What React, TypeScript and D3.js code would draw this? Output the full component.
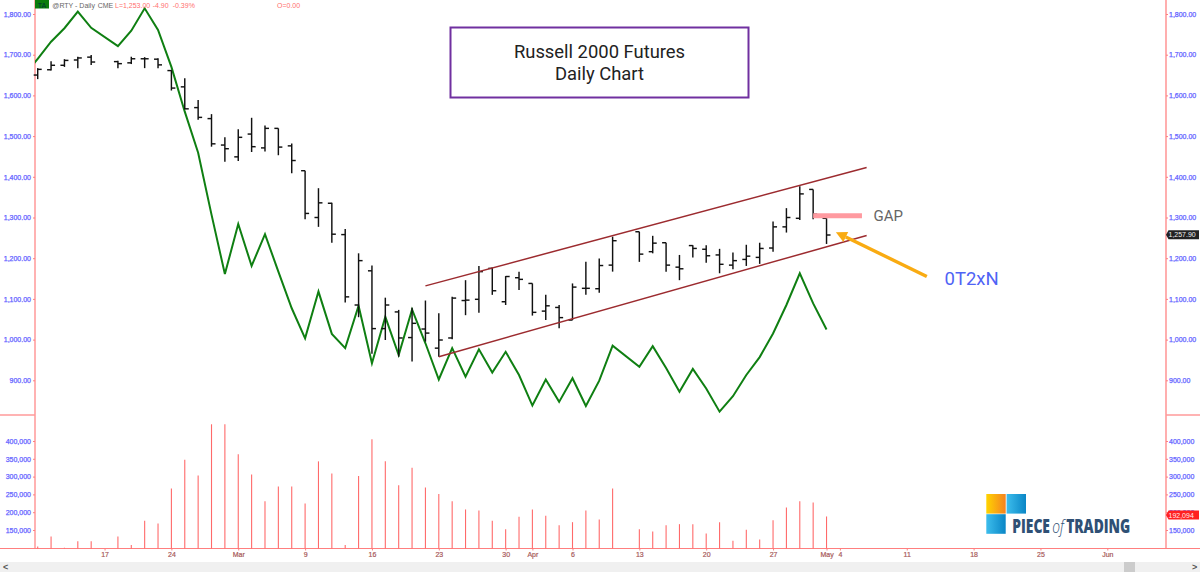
import { useEffect, useRef } from "react";
import * as d3 from "d3";

const ANCHO = 1200;
const ALTO = 572;

// One slot per weekday, starting Mon 10 Feb 2020; null = market holiday
const opens = [
  1650, 1663, 1674, 1687, 1694, null, 1683, 1680, 1690, 1689,
  1661, 1621, 1570, 1543, 1478, 1449, 1505, 1471, 1519, 1476,
  1415, 1300, 1335, 1258, 1085, 1169, 1027, 1068, 1005, 1026,
  979, 1004, 1096, 1099, 1175, 1093, 1152, 1138, 1070, 1079,
  1048, 1126, 1125, 1183, null, 1265, 1216, 1238, 1178, 1231,
  1222, 1208, 1183, 1197, 1202, 1225, 1277, 1298, 1369, 1298,
];
const highs = [
  1667, 1684, 1689, 1695, 1699, null, 1685, 1695, 1694, 1691,
  1662, 1642, 1589, 1554, 1497, 1517, 1545, 1526, 1519, 1482,
  1415, 1372, 1336, 1272, 1212, 1182, 1103, 1073, 1078, 1096,
  1065, 1105, 1146, 1181, 1177, 1156, 1167, 1138, 1110, 1085,
  1138, 1191, 1199, 1253, null, 1265, 1255, 1238, 1208, 1232,
  1232, 1223, 1214, 1233, 1238, 1290, 1323, 1377, 1369, 1298,
];
const lows = [
  1640, 1661, 1670, 1667, 1675, null, 1667, 1677, 1667, 1667,
  1612, 1566, 1540, 1474, 1437, 1439, 1461, 1462, 1453, 1409,
  1296, 1277, 1238, 1091, 1055, 965, 999, 958, 946, 995,
  958, 1001, 1060, 1066, 1110, 1085, 1122, 1059, 1048, 1028,
  1048, 1110, 1115, 1167, null, 1191, 1212, 1167, 1146, 1202,
  1189, 1163, 1173, 1181, 1186, 1216, 1263, 1294, 1296, 1235,
];
const closes = [
  1664, 1674, 1686, 1692, 1682, null, 1678, 1690, 1690, 1675,
  1618, 1567, 1546, 1481, 1469, 1497, 1474, 1519, 1473, 1440,
  1310, 1336, 1259, 1105, 1194, 1027, 1085, 1004, 1040, 1016,
  999, 1102, 1097, 1167, 1120, 1155, 1148, 1067, 1083, 1054,
  1129, 1126, 1182, 1243, null, 1210, 1237, 1183, 1174, 1224,
  1206, 1185, 1194, 1205, 1224, 1277, 1300, 1358, 1308, 1257,
];
const volumes = [
  103600, 131700, 100000, 118600, 118600, null, 131700, 108000, 175800, 168300,
  266800, 347500, 303000, 447000, 447000, 362500, 306000, 231000, 272400, 272400,
  224600, 342800, 309000, 108000, 301500, 404700, 342800, 276000, 325000, 269600,
  251000, 231000, 207700, 205000, 175800, 152000, 187000, 207700, 190000, 163000,
  172000, 205000, 179600, 266800, null, 152000, 146000, 163000, 166400, 166400,
  140000, 172000, 120000, 150500, 123000, 177700, 213000, 231000, 227400, 188000,
];
// Green study line, read on the price scale
const study = [
  1690, 1732, 1765, 1806, 1766, null, 1721, 1759, 1814, 1761,
  1670, 1560, 1459, 1307, 1161, 1284, 1181, 1259, 1167, 1077,
  1003, 1118, 1014, 979, 1083, 942, 1056, 962, 1074, 991,
  902, 979, 909, 976, 919, 970, 913, 838, 902, 847,
  905, 837, 899, 985, null, 933, 984, 930, 872, 928,
  880, 823, 861, 913, 957, 1015, 1085, 1163, 1089, 1025,
];
const studyAntes = 1648; // comes in from off the left edge

const preciosEje = [1800, 1700, 1600, 1500, 1400, 1300, 1200, 1100, 1000, 900];
const volumenEje = [400000, 350000, 300000, 250000, 200000, 150000];
const fechasDia = [5, 10, 15, 20, 25, 30, 35, 37, 40, 45, 50, 55, 59, 60, 65, 70, 75, 80];
const fechasTexto = ["17", "24", "Mar", "9", "16", "23", "30", "Apr", "6", "13", "20", "27", "May", "4", "11", "18", "25", "Jun"];

const canalAlto: [number, number][] = [[29, 1132], [62, 1423]];
const canalBajo: [number, number][] = [[30, 958], [62, 1256]];
const gap: [number, number][] = [[58, 1304], [61.65, 1304]];
const flecha: [number, number][] = [[66.5, 1155], [59.7, 1264]];

const FUENTE = "'Liberation Sans', Arial, sans-serif";
const ROSA = "#ff7f7f";
const AZUL = "#6464ff";

export default function App() {
  const svgRef = useRef<SVGSVGElement>(null);

  useEffect(() => {
    if (!svgRef.current) return;
    const svg = d3.select(svgRef.current);
    svg.selectAll("*").remove();

    const izq = 35;
    const der = 1166;
    const x = d3.scaleLinear().domain([0, 80]).range([37.7, 1107.3]);
    const y = d3.scaleLinear().domain([1800, 900]).range([14, 380.3]);
    const yVol = d3.scaleLinear().domain([400000, 100000]).range([441, 547.8]);
    const dias = d3.range(opens.length).filter((i) => opens[i] !== null);

    const defs = svg.append("defs");
    defs.append("clipPath").attr("id", "panel").append("rect").attr("x", izq).attr("y", 0).attr("width", der - izq).attr("height", 415);
    const g1 = defs.append("linearGradient").attr("id", "naranja");
    g1.append("stop").attr("offset", "0%").attr("stop-color", "#ffd400");
    g1.append("stop").attr("offset", "100%").attr("stop-color", "#f58220");
    const g2 = defs.append("linearGradient").attr("id", "celeste");
    g2.append("stop").attr("offset", "0%").attr("stop-color", "#3dbdec");
    g2.append("stop").attr("offset", "100%").attr("stop-color", "#0a86c6");

    // scrollbar along the bottom
    svg.append("rect").attr("x", 0).attr("y", 562).attr("width", ANCHO).attr("height", 10).attr("fill", "#f0f0f0");
    svg.append("rect").attr("x", 1124).attr("y", 562).attr("width", 11).attr("height", 10).attr("fill", "#cccccc");
    svg.append("text").attr("x", 3).attr("y", 570).attr("font-family", FUENTE).attr("font-size", 9).attr("font-weight", 700).attr("fill", "#555").text("<");
    svg.append("text").attr("x", 1192).attr("y", 570).attr("font-family", FUENTE).attr("font-size", 9).attr("font-weight", 700).attr("fill", "#555").text(">");

    // frame
    svg.append("line").attr("x1", izq).attr("x2", izq).attr("y1", 0).attr("y2", 548.5).attr("stroke", ROSA).attr("stroke-width", 1.2);
    svg.append("line").attr("x1", der).attr("x2", der).attr("y1", 0).attr("y2", 548.5).attr("stroke", "#ffa6a6").attr("stroke-width", 1.8);
    svg.append("line").attr("x1", 0).attr("x2", ANCHO).attr("y1", 548.5).attr("y2", 548.5).attr("stroke", ROSA).attr("stroke-width", 1);
    [[0, izq], [der, ANCHO]].forEach(([a, b]) => {
      svg.append("line").attr("x1", a).attr("x2", b).attr("y1", 415).attr("y2", 415).attr("stroke", "#ff9a9a").attr("stroke-width", 1.4);
    });

    // axes
    const estiloEje = (sel: any) => {
      sel.select(".domain").remove();
      sel.selectAll("line").attr("stroke", ROSA);
      sel.selectAll("text").attr("fill", AZUL).attr("font-family", FUENTE).attr("font-size", 7).attr("stroke", AZUL).attr("stroke-width", 0.25);
    };
    const fmtPrecio = d3.format(",.2f");
    const fmtVol = d3.format(",");
    svg.append("g").attr("transform", `translate(${izq},0)`)
      .call(d3.axisLeft(y).tickValues(preciosEje).tickFormat((d) => fmtPrecio(d as number)).tickSize(2).tickPadding(2))
      .call(estiloEje);
    svg.append("g").attr("transform", `translate(${der},0)`)
      .call(d3.axisRight(y).tickValues(preciosEje).tickFormat((d) => fmtPrecio(d as number)).tickSize(2).tickPadding(1))
      .call(estiloEje);
    svg.append("g").attr("transform", `translate(${izq},0)`)
      .call(d3.axisLeft(yVol).tickValues(volumenEje).tickFormat((d) => fmtVol(d as number)).tickSize(2).tickPadding(2))
      .call(estiloEje);
    svg.append("g").attr("transform", `translate(${der},0)`)
      .call(d3.axisRight(yVol).tickValues(volumenEje).tickFormat((d) => fmtVol(d as number)).tickSize(2).tickPadding(1))
      .call(estiloEje);

    const ejeFechas = svg.append("g").attr("transform", "translate(0,548.5)")
      .call(d3.axisBottom(x).tickValues(fechasDia).tickFormat((_, i) => fechasTexto[i]).tickSize(2).tickPadding(2));
    ejeFechas.select(".domain").remove();
    ejeFechas.selectAll("line").attr("stroke", ROSA);
    ejeFechas.selectAll("text").attr("fill", "#a85a5a").attr("font-family", FUENTE).attr("font-size", 7).attr("stroke", "#a85a5a").attr("stroke-width", 0.2);

    // volume
    svg.append("g").selectAll("line").data(dias).enter().append("line")
      .attr("x1", (i) => x(i)).attr("x2", (i) => x(i))
      .attr("y1", (i) => yVol(volumes[i] as number)).attr("y2", 548.5)
      .attr("stroke", "#ff6a6a").attr("stroke-width", 1.1);

    // green study
    const puntosStudy: [number, number][] = [[-1, studyAntes] as [number, number]].concat(
      dias.map((i) => [i, study[i] as number] as [number, number])
    );
    svg.append("path").datum(puntosStudy)
      .attr("clip-path", "url(#panel)")
      .attr("d", d3.line<[number, number]>().x((d) => x(d[0])).y((d) => y(d[1])))
      .attr("fill", "none").attr("stroke", "#0f7f12").attr("stroke-width", 2).attr("stroke-linejoin", "miter");

    // OHLC bars
    const barras = svg.append("g").attr("stroke", "#111").attr("stroke-width", 1.45);
    dias.forEach((i) => {
      const px = x(i);
      barras.append("line").attr("x1", px).attr("x2", px).attr("y1", y(highs[i] as number)).attr("y2", y(lows[i] as number));
      barras.append("line").attr("x1", px - 4).attr("x2", px).attr("y1", y(opens[i] as number)).attr("y2", y(opens[i] as number));
      barras.append("line").attr("x1", px).attr("x2", px + 4).attr("y1", y(closes[i] as number)).attr("y2", y(closes[i] as number));
    });

    // drawn annotations
    const recta = d3.line<[number, number]>().x((d) => x(d[0])).y((d) => y(d[1]));
    [canalAlto, canalBajo].forEach((c) => {
      svg.append("path").attr("d", recta(c)).attr("fill", "none").attr("stroke", "#9c2b2f").attr("stroke-width", 1.5);
    });
    svg.append("path").attr("d", recta(gap)).attr("stroke", "#ff9aa0").attr("stroke-width", 5).attr("fill", "none");

    const [cola, punta] = flecha;
    const cx = x(cola[0]), cy = y(cola[1]), px = x(punta[0]), py = y(punta[1]);
    const ang = Math.atan2(py - cy, px - cx);
    const baseX = px - 11 * Math.cos(ang), baseY = py - 11 * Math.sin(ang);
    svg.append("line").attr("x1", cx).attr("y1", cy).attr("x2", baseX).attr("y2", baseY).attr("stroke", "#f9ab12").attr("stroke-width", 3.4);
    svg.append("path")
      .attr("d", `M${px},${py}L${baseX - 5.5 * Math.sin(ang)},${baseY + 5.5 * Math.cos(ang)}L${baseX + 5.5 * Math.sin(ang)},${baseY - 5.5 * Math.cos(ang)}Z`)
      .attr("fill", "#f9ab12");

    svg.append("text").attr("x", 873.5).attr("y", 221).attr("font-family", "Roboto").attr("font-size", 15).attr("fill", "#666").text("GAP");
    svg.append("text").attr("x", 944.5).attr("y", 285).attr("font-family", "Roboto").attr("font-size", 18.5).attr("fill", "#4f63f5").text("0T2xN");

    // title box
    svg.append("rect").attr("x", 450.5).attr("y", 27.5).attr("width", 298).attr("height", 70).attr("fill", "#fff").attr("stroke", "#7030a0").attr("stroke-width", 2);
    ["Russell 2000 Futures", "Daily Chart"].forEach((t, k) => {
      svg.append("text").attr("x", 599.5).attr("y", 57.8 + k * 22.2).attr("text-anchor", "middle")
        .attr("font-family", "Roboto").attr("font-size", 18.4).attr("fill", "#222").text(t);
    });

    // header strip
    svg.append("rect").attr("x", izq).attr("y", 0).attr("width", 14).attr("height", 8.5).attr("fill", "#0b7d0b");
    svg.append("text").attr("x", 42).attr("y", 7.5).attr("text-anchor", "middle").attr("font-family", FUENTE).attr("font-size", 7).attr("fill", "#033").text("TA");
    const cabecera: [number, string, string][] = [
      [52.3, "@RTY - Daily", "#666"],
      [97.7, "CME", "#666"],
      [115, "L=1,253.00", "#ff6f6f"],
      [152.7, "-4.90", "#ff6f6f"],
      [172.7, "-0.39%", "#ff6f6f"],
      [277, "O=0.00", "#ff6f6f"],
    ];
    cabecera.forEach(([cxx, t, c]) => {
      svg.append("text").attr("x", cxx).attr("y", 7.5).attr("font-family", FUENTE).attr("font-size", 7).attr("fill", c).text(t);
    });

    // last value flags on the right axis
    const yUltimo = y(1257.9);
    svg.append("path")
      .attr("d", `M${der},${yUltimo}L${der + 2.5},${yUltimo - 4.5}H1199V${yUltimo + 4.5}H${der + 2.5}Z`)
      .attr("fill", "#222");
    svg.append("text").attr("x", 1168.5).attr("y", yUltimo + 2.5).attr("font-family", FUENTE).attr("font-size", 7).attr("fill", "#eee").text("1,257.90");
    const yVolUltimo = yVol(192094);
    svg.append("path")
      .attr("d", `M${der},${yVolUltimo}L${der + 2.5},${yVolUltimo - 4.5}H1199V${yVolUltimo + 4.5}H${der + 2.5}Z`)
      .attr("fill", "#ff2020");
    svg.append("text").attr("x", 1168.5).attr("y", yVolUltimo + 2.5).attr("font-family", FUENTE).attr("font-size", 7).attr("fill", "#ffeaea").text("192,094");

    // logo
    svg.append("rect").attr("x", 986.3).attr("y", 494).attr("width", 19.4).attr("height", 19.6).attr("fill", "url(#naranja)");
    svg.append("rect").attr("x", 1006.6).attr("y", 494).attr("width", 19.4).attr("height", 19.6).attr("fill", "url(#celeste)");
    svg.append("rect").attr("x", 986.3).attr("y", 514.2).attr("width", 19.4).attr("height", 19.6).attr("fill", "url(#celeste)");
    const marca = svg.append("text").attr("x", 1012.3).attr("y", 533.4).attr("font-family", "'Open Sans'")
      .attr("font-size", 18.5).attr("fill", "#2f5075")
      .attr("textLength", 118).attr("lengthAdjust", "spacingAndGlyphs");
    marca.append("tspan").attr("font-weight", 800).text("PIECE");
    marca.append("tspan").attr("font-style", "italic").attr("font-weight", 300).attr("dx", 3).text("of");
    marca.append("tspan").attr("font-weight", 800).attr("dx", 3).text("TRADING");
  }, []);

  return (
    <svg
      ref={svgRef}
      viewBox={`0 0 ${ANCHO} ${ALTO}`}
      width={ANCHO}
      height={ALTO}
      style={{ position: "absolute", left: 0, top: 0, display: "block", background: "#fff" }}
    />
  );
}
